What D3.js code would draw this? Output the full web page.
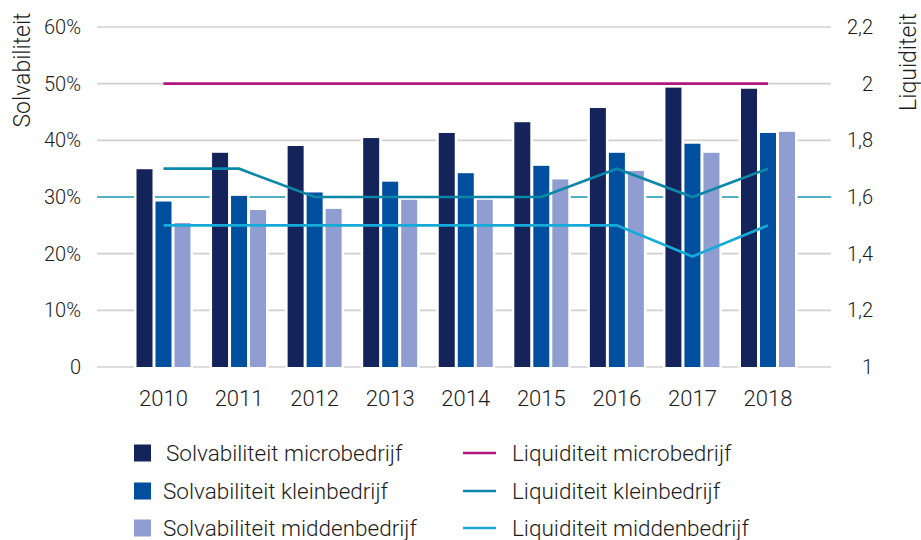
<!DOCTYPE html>
<html>
<head>
<meta charset="utf-8">
<script src="https://cdn.jsdelivr.net/npm/d3@7"></script>
<style>
  body { margin: 0; background: #fff; }
  svg text { font-family: Roboto, "Noto Sans", sans-serif; font-weight: 300; fill: #1c1c1c; }
</style>
</head>
<body>
<div id="chart"></div>
<script>
const years = ['2010','2011','2012','2013','2014','2015','2016','2017','2018']
const barSeries = ['Solvabiliteit microbedrijf','Solvabiliteit kleinbedrijf','Solvabiliteit middenbedrijf']
const lineSeries = ['Liquiditeit microbedrijf','Liquiditeit kleinbedrijf','Liquiditeit middenbedrijf']
// solvabiliteit in %
const solvMicro  = [34.9, 37.8, 39.0, 40.4, 41.3, 43.2, 45.7, 49.3, 49.1]
const solvKlein  = [29.2, 30.2, 30.8, 32.7, 34.2, 35.5, 37.8, 39.4, 41.3]
const solvMidden = [25.4, 27.7, 27.9, 29.5, 29.5, 33.1, 34.6, 37.8, 41.5]
// liquiditeit
const liqMicro  = [2, 2, 2, 2, 2, 2, 2, 2, 2]
const liqKlein  = [1.7, 1.7, 1.6, 1.6, 1.6, 1.6, 1.7, 1.6, 1.7]
const liqMidden = [1.5, 1.5, 1.5, 1.5, 1.5, 1.5, 1.5, 1.39, 1.5]
const leftTicks = [0, 10, 20, 30, 40, 50, 60]
const rightTicks = [1, 1.2, 1.4, 1.6, 1.8, 2, 2.2]

const barColors = ['#15235b', '#004f9f', '#8f9dd0']
const lineColors = ['#b0187f', '#0b87a8', '#15aad8']

const w = 921, h = 540
const plot_left = 97, plot_right = 831, plot_top = 27, plot_bottom = 367

const svg = d3.select('#chart').append('svg').attr('width', w).attr('height', h)

const x = d3.scalePoint().domain(years).range([163.5, 768])
const x1 = d3.scaleBand().domain(barSeries).range([-27, 27]).paddingInner(3/19)
const yL = d3.scaleLinear().domain([0, 60]).range([plot_bottom, plot_top])
const yR = d3.scaleLinear().domain([1, 2.2]).range([plot_bottom, plot_top])

//gridlines
svg.append('g').selectAll('line')
  .data(leftTicks)
  .enter().append('line')
  .attr('x1', plot_left).attr('x2', plot_right)
  .attr('y1', d => yL(d)).attr('y2', d => yL(d))
  .attr('stroke', d => d === 30 ? '#4fb0c6' : '#d0d0d0')
  .attr('stroke-width', d => d === 30 ? 2 : 1.6)

//left ticks
svg.append('g').selectAll('text')
  .data(leftTicks)
  .enter().append('text')
  .attr('x', 81).attr('y', d => yL(d))
  .attr('dy', '0.35em')
  .attr('text-anchor', 'end')
  .style('font-size', '20px')
  .text(d => d === 0 ? '0' : d + '%')

//right ticks
svg.append('g').selectAll('text')
  .data(rightTicks)
  .enter().append('text')
  .attr('x', 873).attr('y', d => yR(d))
  .attr('dy', '0.35em')
  .attr('text-anchor', 'end')
  .style('font-size', '20px')
  .text(d => String(Math.round(d * 10) / 10).replace('.', ','))

//x labels
svg.append('g').selectAll('text')
  .data(years)
  .enter().append('text')
  .attr('x', d => x(d)).attr('y', 406)
  .attr('text-anchor', 'middle')
  .style('font-size', '22px')
  .text(d => d)

//bars
const barData = [solvMicro, solvKlein, solvMidden]
barData.forEach((vals, s) => {
  svg.append('g').selectAll('rect')
    .data(vals)
    .enter().append('rect')
    .attr('x', (d, i) => x(years[i]) + x1(barSeries[s]))
    .attr('y', d => yL(d))
    .attr('width', x1.bandwidth())
    .attr('height', d => yL(0) - yL(d))
    .attr('fill', barColors[s])
    .attr('stroke', '#fff')
    .attr('stroke-width', 5)
    .style('paint-order', 'stroke')
})

//lines
const lineData = [liqMicro, liqKlein, liqMidden]
const line = d3.line().x((d, i) => x(years[i])).y(d => yR(d))
lineData.forEach((vals, s) => {
  svg.append('path')
    .datum(vals)
    .attr('d', line)
    .attr('fill', 'none')
    .attr('stroke', lineColors[s])
    .attr('stroke-width', 2.6)
})

//axis titles
svg.append('text')
  .text('Solvabiliteit')
  .attr('transform', 'translate(30,70) rotate(-90)')
  .attr('text-anchor', 'middle')
  .style('font-size', '23px')

svg.append('text')
  .text('Liquiditeit')
  .attr('transform', 'translate(916,62) rotate(-90)')
  .attr('text-anchor', 'middle')
  .style('font-size', '23px')

//legend
const legendRows = [453, 491, 528]
barSeries.forEach((name, i) => {
  svg.append('rect')
    .attr('x', 134).attr('y', legendRows[i] - 8.5)
    .attr('width', 17).attr('height', 17)
    .attr('fill', barColors[i])
  svg.append('text')
    .attr('x', i === 0 ? 166 : 163).attr('y', legendRows[i])
    .attr('dy', '0.35em')
    .style('font-size', '22.5px')
    .text(name)
})
lineSeries.forEach((name, i) => {
  svg.append('line')
    .attr('x1', 463).attr('x2', 496)
    .attr('y1', legendRows[i]).attr('y2', legendRows[i])
    .attr('stroke', lineColors[i])
    .attr('stroke-width', 2.6)
  svg.append('text')
    .attr('x', 512).attr('y', legendRows[i])
    .attr('dy', '0.35em')
    .style('font-size', '22.5px')
    .text(name)
})
</script>
</body>
</html>
